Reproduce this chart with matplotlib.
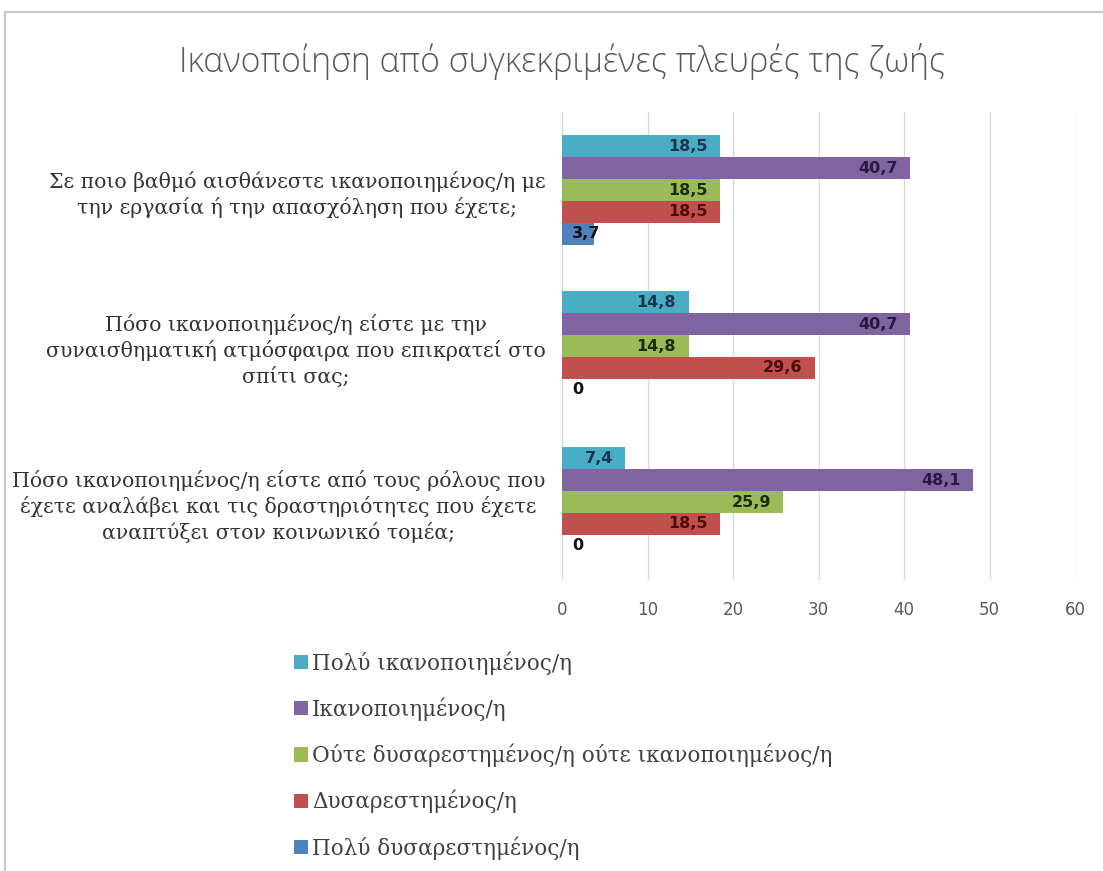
import matplotlib
matplotlib.use('Agg')
import matplotlib.pyplot as plt
from matplotlib.patches import Rectangle, Patch
import numpy as np

# Δεδομένα
ερωτήσεις = [
    'Σε ποιο βαθμό αισθάνεστε ικανοποιημένος/η με\nτην εργασία ή την απασχόληση που έχετε;',
    'Πόσο ικανοποιημένος/η είστε με την\nσυναισθηματική ατμόσφαιρα που επικρατεί στο\nσπίτι σας;',
    'Πόσο ικανοποιημένος/η είστε από τους ρόλους που\nέχετε αναλάβει και τις δραστηριότητες που έχετε\nαναπτύξει στον κοινωνικό τομέα;',
]
κατηγορίες = ['Πολύ ικανοποιημένος/η', 'Ικανοποιημένος/η',
              'Ούτε δυσαρεστημένος/η ούτε ικανοποιημένος/η',
              'Δυσαρεστημένος/η', 'Πολύ δυσαρεστημένος/η']
poly_ikan = [18.5, 14.8, 7.4]
ikan = [40.7, 40.7, 48.1]
oute = [18.5, 14.8, 25.9]
dysar = [18.5, 29.6, 18.5]
poly_dysar = [3.7, 0, 0]
series = [poly_ikan, ikan, oute, dysar, poly_dysar]

colors = ['#4bacc6', '#8064a2', '#9bbb59', '#c0504d', '#4f81bd']
label_colors = ['#1b3550', '#2a1840', '#1c2c08', '#4a0c0c', '#111111']

fig = plt.figure(figsize=(11.03, 8.71), dpi=100)

# πλαίσιο γύρω από το γράφημα
fig.patches.append(Rectangle((5 / 1103, -0.01), 1.02, 1 - 12 / 871 + 0.01,
                             transform=fig.transFigure, fill=False,
                             edgecolor='#c8c8c8', linewidth=1.6))

ax = fig.add_axes([562 / 1103, 1 - 580 / 871, (1075 - 562) / 1103, (580 - 112) / 871])

h = 0.1404
y = np.arange(len(ερωτήσεις))
for i, vals in enumerate(series):
    pos = y + (i - 2) * h
    ax.barh(pos, vals, height=h, color=colors[i], label=κατηγορίες[i], zorder=2)
    for p, v in zip(pos, vals):
        txt = ('%g' % v).replace('.', ',')
        if v < 6:
            ax.text(1.2, p, txt, ha='left', va='center', fontsize=11.5,
                    fontweight='bold', color='#111111', zorder=3)
        else:
            ax.annotate(txt, (v, p), xytext=(-9, 0), textcoords='offset points',
                        ha='right', va='center', fontsize=11.5, fontweight='bold',
                        color=label_colors[i], zorder=3)

ax.set_xlim(0, 60)
ax.set_ylim(2.5, -0.5)
ax.set_xticks(range(0, 61, 10))
ax.set_yticks(y)
ax.set_yticklabels(ερωτήσεις, family='DejaVu Serif', fontsize=14.8,
                   color='#333333', multialignment='center', linespacing=1.3)
ax.tick_params(axis='x', length=0, pad=15, labelsize=12, labelcolor='#595959')
ax.tick_params(axis='y', length=0, pad=12)
ax.grid(axis='x', color='#d9d9d9', linewidth=1, zorder=0)
for s in ax.spines.values():
    s.set_visible(False)

fig.text(562 / 1103, 1 - 62 / 871, 'Ικανοποίηση από συγκεκριμένες πλευρές της ζωής',
         ha='center', va='center', fontsize=24.3, color='#595959',
         family='Open Sans', fontweight='light')

handles = [Patch(facecolor=c) for c in colors]
fig.legend(handles, κατηγορίες, loc='upper left',
           bbox_to_anchor=(294 / 1103, 1 - 651 / 871), frameon=False,
           prop={'family': 'DejaVu Serif', 'size': 15.5},
           labelcolor='#404040', handlelength=0.65, handleheight=0.65,
           handletextpad=0.2, labelspacing=1.06, borderaxespad=0, borderpad=0)

fig.savefig('out.png', dpi=100)
